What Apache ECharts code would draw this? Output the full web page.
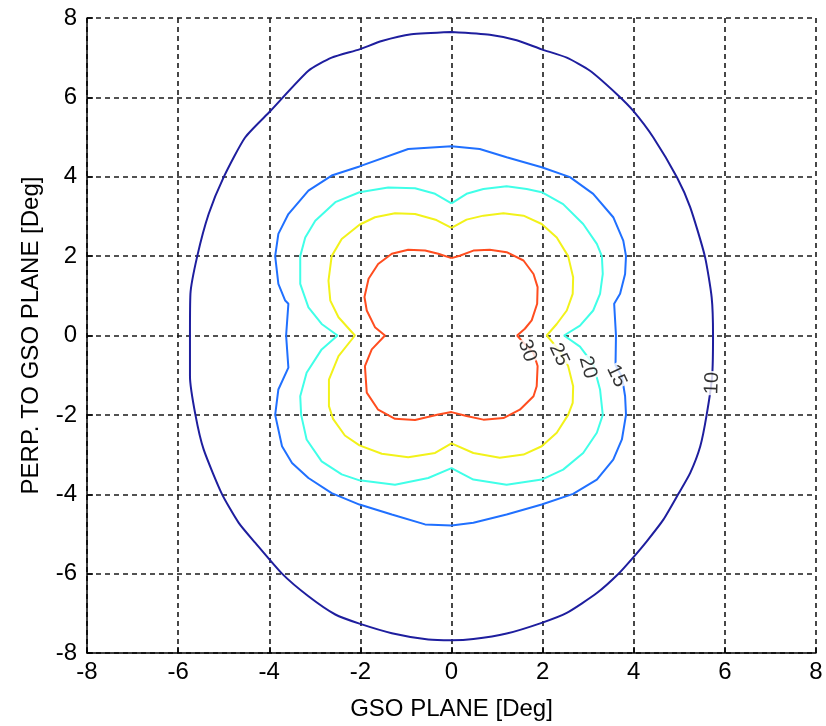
<!DOCTYPE html>
<html>
<head>
<meta charset="utf-8">
<script src="https://cdn.jsdelivr.net/npm/echarts@6/dist/echarts.min.js"></script>
<style>
  html, body { margin: 0; padding: 0; background: #fff; }
  #chart { width: 826px; height: 726px; }
</style>
</head>
<body>
<div id="chart"></div>
<script>
// Contour levels and their colours (jet-like ramp)
const levels = [10, 15, 20, 25, 30];
const levelColors = ['#1e1e9e', '#2070ff', '#40ffe8', '#f2f21a', '#ff4d1f'];

// Closed contour outlines, [x, y] in degrees
const contour10 = [[0,7.65],[0.84,7.58],[1.43,7.44],[1.98,7.21],[2.53,7.0],[3.04,6.67],[3.63,6.08],[3.99,5.66],[4.43,4.99],[4.95,3.98],[5.24,3.23],[5.56,2.0],[5.71,0.96],[5.74,0],[5.72,-1.03],[5.6,-2.0],[5.46,-2.79],[5.24,-3.46],[4.98,-3.99],[4.65,-4.64],[4.29,-5.18],[3.99,-5.59],[3.66,-6.01],[3.19,-6.49],[2.53,-6.99],[1.98,-7.24],[1.21,-7.51],[0.48,-7.65],[0,-7.68],[-0.51,-7.66],[-1.31,-7.5],[-2.02,-7.26],[-2.55,-7.03],[-3.14,-6.57],[-3.72,-6.0],[-4.31,-5.22],[-4.67,-4.72],[-5.04,-3.99],[-5.44,-2.87],[-5.62,-2.0],[-5.74,-1.03],[-5.74,0],[-5.73,1.05],[-5.58,2.0],[-5.33,3.06],[-5.0,3.99],[-4.53,4.99],[-3.98,5.65],[-3.14,6.67],[-2.63,7.0],[-2.02,7.21],[-1.53,7.42],[-0.88,7.59],[0,7.65]];
const contour15 = [[0,4.77],[0.62,4.70],[1.21,4.49],[1.98,4.24],[2.6,3.99],[3.11,3.57],[3.55,2.98],[3.77,2.39],[3.83,2.0],[3.81,1.55],[3.70,1.05],[3.57,0.8],[3.61,0],[3.60,-0.75],[3.74,-1.03],[3.81,-1.53],[3.83,-2.0],[3.74,-2.62],[3.55,-3.13],[3.19,-3.63],[2.67,-3.99],[1.98,-4.26],[1.21,-4.51],[0.48,-4.72],[0,-4.79],[-0.58,-4.76],[-1.31,-4.51],[-2.02,-4.26],[-2.63,-3.97],[-3.14,-3.59],[-3.50,-3.21],[-3.72,-2.79],[-3.87,-2.0],[-3.80,-1.36],[-3.58,-0.81],[-3.63,0],[-3.58,0.8],[-3.65,0.88],[-3.80,1.30],[-3.87,2.0],[-3.80,2.56],[-3.58,3.06],[-3.14,3.65],[-2.63,4.03],[-2.02,4.26],[-0.95,4.7],[0,4.77]];
const contour20 = [[0,3.33],[0.33,3.57],[0.70,3.69],[1.21,3.76],[1.65,3.69],[1.98,3.61],[2.45,3.31],[2.89,2.81],[3.19,2.31],[3.30,2.0],[3.32,1.55],[3.26,1.05],[3.11,0.63],[2.82,0.25],[2.47,0],[2.82,-0.28],[3.11,-0.72],[3.26,-1.36],[3.32,-2.0],[3.19,-2.45],[2.89,-2.96],[2.45,-3.38],[1.98,-3.63],[1.21,-3.76],[0.48,-3.63],[0,-3.34],[-0.51,-3.59],[-1.24,-3.76],[-2.02,-3.65],[-2.41,-3.5],[-2.85,-3.17],[-3.18,-2.62],[-3.30,-2.0],[-3.32,-1.53],[-3.18,-0.94],[-2.85,-0.35],[-2.50,0],[-2.85,0.29],[-3.14,0.71],[-3.32,1.30],[-3.32,2.0],[-3.21,2.47],[-2.99,2.89],[-2.55,3.36],[-2.02,3.61],[-1.39,3.73],[-0.80,3.71],[-0.36,3.57],[0,3.33]];
const contour25 = [[0,2.71],[0.33,2.92],[0.70,3.02],[1.14,3.08],[1.58,3.02],[1.98,2.81],[2.31,2.47],[2.56,2.0],[2.67,1.47],[2.66,1.05],[2.53,0.63],[2.31,0.29],[2.09,0],[2.35,-0.35],[2.56,-0.77],[2.67,-1.28],[2.66,-1.70],[2.56,-2.0],[2.31,-2.45],[1.98,-2.79],[1.58,-3.0],[1.06,-3.08],[0.48,-2.96],[0,-2.72],[-0.36,-2.96],[-0.95,-3.07],[-1.53,-2.98],[-2.02,-2.77],[-2.34,-2.52],[-2.60,-2.1],[-2.69,-1.78],[-2.69,-1.11],[-2.48,-0.52],[-2.12,0],[-2.48,0.46],[-2.66,0.88],[-2.70,1.38],[-2.63,2.0],[-2.41,2.43],[-2.02,2.79],[-1.68,2.98],[-1.24,3.08],[-0.80,3.06],[-0.33,2.91],[0,2.71]];
const contour30 = [[0,1.95],[0.18,2.01],[0.48,2.14],[0.84,2.16],[1.21,2.10],[1.58,1.89],[1.80,1.55],[1.89,1.22],[1.88,0.80],[1.76,0.38],[1.61,0.17],[1.44,0],[1.58,-0.18],[1.80,-0.44],[1.89,-0.77],[1.87,-1.28],[1.80,-1.53],[1.50,-1.87],[1.14,-2.08],[0.70,-2.12],[0.33,-2.03],[0,-1.93],[-0.29,-1.99],[-0.80,-2.13],[-1.24,-2.1],[-1.61,-1.87],[-1.86,-1.44],[-1.90,-0.77],[-1.75,-0.35],[-1.46,0],[-1.68,0.21],[-1.86,0.63],[-1.91,0.97],[-1.82,1.43],[-1.61,1.80],[-1.31,2.06],[-0.95,2.16],[-0.58,2.14],[-0.29,2.06],[0,1.95]];
const contours = [contour10, contour15, contour20, contour25, contour30];
// Only the smooth outer ring gets curve smoothing; inner rings keep their cusps
const contourSmooth = [0.2, 0, 0, 0, 0];

// Inline level labels: position on the contour and text angle (degrees, CCW)
const labelPos = [[5.72,-1.2],[3.62,-1.02],[2.99,-0.8],[2.36,-0.48],[1.66,-0.38]];
const labelAngle = [88, -65, -75, -65, -72];

// Axis ticks
const ticks = [-8, -6, -4, -2, 0, 2, 4, 6, 8];

const fontFam = '"Liberation Sans", Arial, Helvetica, sans-serif';

const chart = echarts.init(document.getElementById('chart'), null, { renderer: 'canvas' });

function axis(name, isY) {
  return {
    type: 'value',
    min: ticks[0],
    max: ticks[ticks.length - 1],
    interval: ticks[1] - ticks[0],
    name: name,
    nameLocation: 'middle',
    nameGap: 44,
    nameRotate: isY ? 90 : 0,
    nameTextStyle: { color: '#000', fontSize: 24, fontFamily: fontFam },
    axisLine: { show: true, onZero: false, lineStyle: { color: '#000', width: 1.5 } },
    axisTick: { show: true, inside: true, length: 6, lineStyle: { color: '#000', width: 1.5 } },
    axisLabel: { color: '#000', fontSize: 24, fontFamily: fontFam, margin: isY ? 10 : 7 },
    splitLine: { show: true, lineStyle: { color: '#1a1a1a', width: 1.6, type: [5, 4] } }
  };
}

const series = contours.map((pts, i) => ({
  type: 'line',
  name: String(levels[i]),
  data: pts,
  showSymbol: false,
  symbol: 'none',
  smooth: contourSmooth[i] || false,
  silent: true,
  z: 3,
  lineStyle: { color: levelColors[i], width: 2 }
}));

series.push({
  type: 'scatter',
  symbolSize: 0,
  silent: true,
  z: 5,
  data: labelPos.map((p, i) => ({
    value: p,
    label: {
      show: true,
      position: 'inside',
      formatter: String(levels[i]),
      rotate: labelAngle[i],
      color: '#000',
      fontSize: 20,
      fontFamily: fontFam,
      backgroundColor: '#fff',
      padding: [0, 1]
    }
  }))
});

chart.setOption({
  animation: false,
  backgroundColor: '#fff',
  grid: { left: 87, right: 10, top: 18, bottom: 72, containLabel: false },
  xAxis: axis('GSO PLANE [Deg]', false),
  yAxis: axis('PERP. TO GSO PLANE [Deg]', true),
  series: series
});
</script>
</body>
</html>
